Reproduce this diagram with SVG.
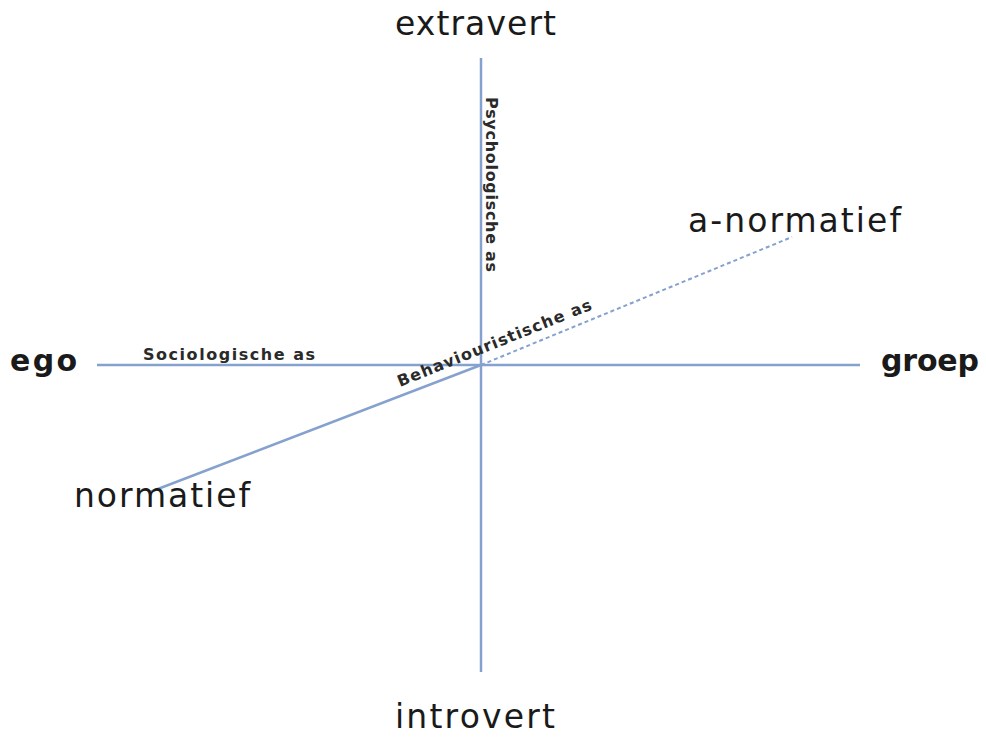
<svg xmlns="http://www.w3.org/2000/svg" width="986" height="738" viewBox="0 0 986 738">
  <style>
    .axis { stroke: #84a2cd; stroke-width: 2.5; fill: none; }
    .dash { stroke: #84a2cd; stroke-width: 2; stroke-dasharray: 4 3; fill: none; }
    .pole { font-family: "DejaVu Sans", "Liberation Sans", sans-serif; font-size: 33px; fill: #1a1a1a; }
    .pole.heavy { font-weight: bold; font-size: 30px; }
    .name { font-family: "DejaVu Sans", "Liberation Sans", sans-serif; font-size: 16px; font-weight: bold; fill: #2a2a2a; }
  </style>
  <rect width="986" height="738" fill="#ffffff"/>

  <g id="connectors">
    <line class="axis" x1="481" y1="58" x2="481" y2="672"/>
    <line class="axis" x1="97" y1="365" x2="860" y2="365"/>
    <line class="axis" x1="150" y1="492" x2="481" y2="365"/>
    <line class="dash" x1="481" y1="365" x2="792" y2="237"/>
  </g>

  <g id="extravert"><text class="pole" x="395" y="35" textLength="161" lengthAdjust="spacing">extravert</text></g>
  <g id="introvert"><text class="pole" x="395" y="728" textLength="160" lengthAdjust="spacing">introvert</text></g>
  <g id="ego"><text class="pole heavy" x="10" y="371" textLength="67" lengthAdjust="spacing">ego</text></g>
  <g id="groep"><text class="pole heavy" x="881" y="371" textLength="98" lengthAdjust="spacing">groep</text></g>
  <g id="a-normatief"><text class="pole" x="688" y="232" textLength="213" lengthAdjust="spacing">a-normatief</text></g>
  <g id="normatief"><text class="pole" x="74" y="507" textLength="176" lengthAdjust="spacing">normatief</text></g>

  <g id="sociologische-as"><text class="name" x="143" y="360" textLength="172" lengthAdjust="spacing">Sociologische as</text></g>
  <g id="psychologische-as"><text class="name" transform="translate(486 97) rotate(90)" textLength="175" lengthAdjust="spacing">Psychologische as</text></g>
  <g id="behaviouristische-as"><text class="name" font-size="17" transform="translate(400 387) rotate(-22)" textLength="208" lengthAdjust="spacing">Behaviouristische as</text></g>
</svg>
